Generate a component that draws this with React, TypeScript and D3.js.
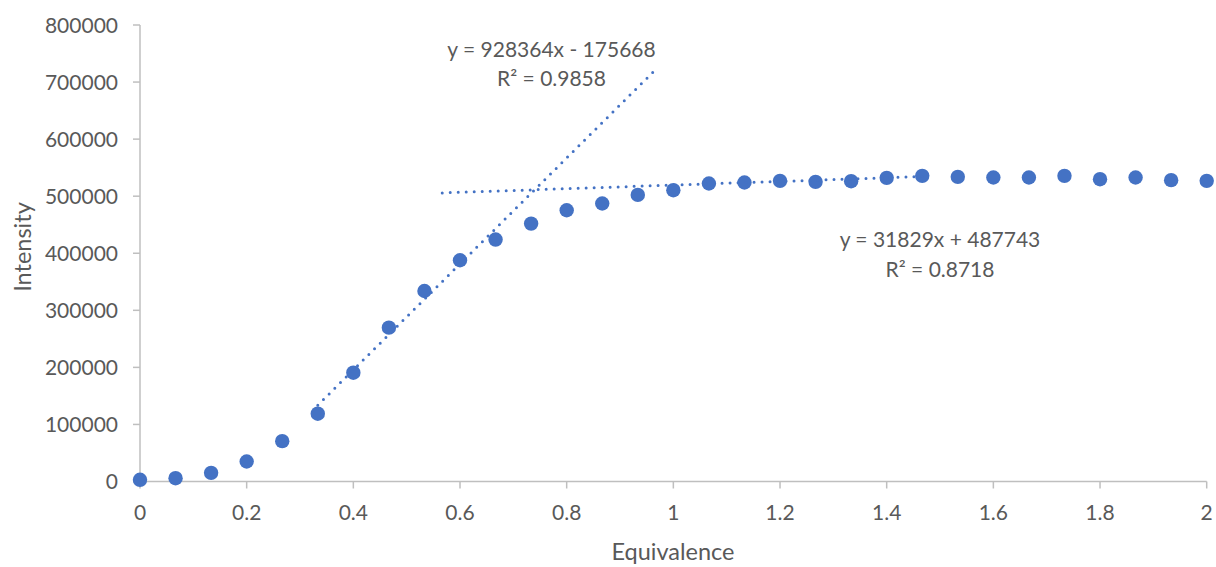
import React from "react";
import * as d3 from "d3";

// Titration-style intensity readings, one every 1/15 equivalence
const equivalence: number[] = d3.range(0, 31).map((k) => k / 15);
const intensity: number[] = [
  3000, 5800, 15200, 35000, 70700, 118800, 190700, 269600, 333800, 387700,
  424000, 452000, 475400, 487200, 502300, 510500, 522200, 524000, 526900, 525100,
  526300, 532100, 535600, 533900, 532800, 532800, 535600, 529800, 532800, 528100,
  526900,
];

const xTicks: number[] = [0, 0.2, 0.4, 0.6, 0.8, 1, 1.2, 1.4, 1.6, 1.8, 2];
const yTicks: number[] = [0, 100000, 200000, 300000, 400000, 500000, 600000, 700000, 800000];

// Linear trendlines: [slope, intercept], drawn over [xStart, xEnd]
const riseFit = { slope: 928364, intercept: -175668, r2: 0.9858, from: 1 / 3, to: 29 / 30 };
const plateauFit = { slope: 31829, intercept: 487743, r2: 0.8718, from: 17 / 30, to: 22 / 15 };

const W = 1216;
const H = 567;
const BLUE = "#4472C4";
const TEXT = "#595959";
const AXIS = "#BFBFBF";
const FONT = "Lato, 'Open Sans', sans-serif";
const FS = 21;
const TITLE_FS = 23.5;

function fmtX(v: number): string {
  return String(+v.toFixed(1));
}

function eqText(f: { slope: number; intercept: number }): string {
  const sign = f.intercept < 0 ? "-" : "+";
  return `y = ${f.slope}x ${sign} ${Math.abs(f.intercept)}`;
}

export default function App() {
  const x = d3.scaleLinear().domain([0, 2]).range([140, 1206.7]);
  const y = d3.scaleLinear().domain([0, 800000]).range([481.5, 25]);

  const trendPath = (f: typeof riseFit) =>
    d3
      .line<number>()
      .x((v) => x(v))
      .y((v) => y(f.slope * v + f.intercept))([f.from, f.to]) ?? "";

  return (
    <svg
      width={W}
      height={H}
      viewBox={`0 0 ${W} ${H}`}
      style={{ position: "absolute", left: 0, top: 0, background: "#fff" }}
      fontFamily={FONT}
    >
      {/* y axis */}
      <line x1={x(0)} x2={x(0)} y1={y(0)} y2={y(800000)} stroke={AXIS} strokeWidth={1.5} />
      {yTicks.map((t) => (
        <g key={"y" + t}>
          <line x1={x(0) - 7} x2={x(0)} y1={y(t)} y2={y(t)} stroke={AXIS} strokeWidth={1.5} />
          <text x={118} y={y(t)} dy="0.36em" textAnchor="end" fontSize={FS} fill={TEXT}>
            {t}
          </text>
        </g>
      ))}

      {/* x axis */}
      <line x1={x(0)} x2={x(2)} y1={y(0)} y2={y(0)} stroke={AXIS} strokeWidth={1.5} />
      {xTicks.map((t) => (
        <g key={"x" + t}>
          <line x1={x(t)} x2={x(t)} y1={y(0)} y2={y(0) + 7} stroke={AXIS} strokeWidth={1.5} />
          <text x={x(t)} y={520} textAnchor="middle" fontSize={FS} fill={TEXT}>
            {fmtX(t)}
          </text>
        </g>
      ))}

      {/* axis titles */}
      <text x={673} y={560} textAnchor="middle" fontSize={TITLE_FS} fill={TEXT}>
        Equivalence
      </text>
      <text
        transform="translate(31,247) rotate(-90)"
        textAnchor="middle"
        fontSize={TITLE_FS}
        fill={TEXT}
      >
        Intensity
      </text>

      {/* data markers */}
      {equivalence.map((e, i) => (
        <circle key={"p" + i} cx={x(e)} cy={y(intensity[i])} r={7.2} fill={BLUE} />
      ))}

      {/* trendlines */}
      {[riseFit, plateauFit].map((f, i) => (
        <path
          key={"t" + i}
          d={trendPath(f)}
          fill="none"
          stroke={BLUE}
          strokeWidth={3}
          strokeLinecap="round"
          strokeDasharray="0 8"
        />
      ))}

      {/* trendline equations */}
      <g fontSize={FS} fill={TEXT} textAnchor="middle">
        <text x={551.5} y={57}>{eqText(riseFit)}</text>
        <text x={551.5} y={86}>
          R² = {riseFit.r2}
        </text>
        <text x={940} y={247}>{eqText(plateauFit)}</text>
        <text x={940} y={276.5}>
          R² = {plateauFit.r2}
        </text>
      </g>
    </svg>
  );
}
